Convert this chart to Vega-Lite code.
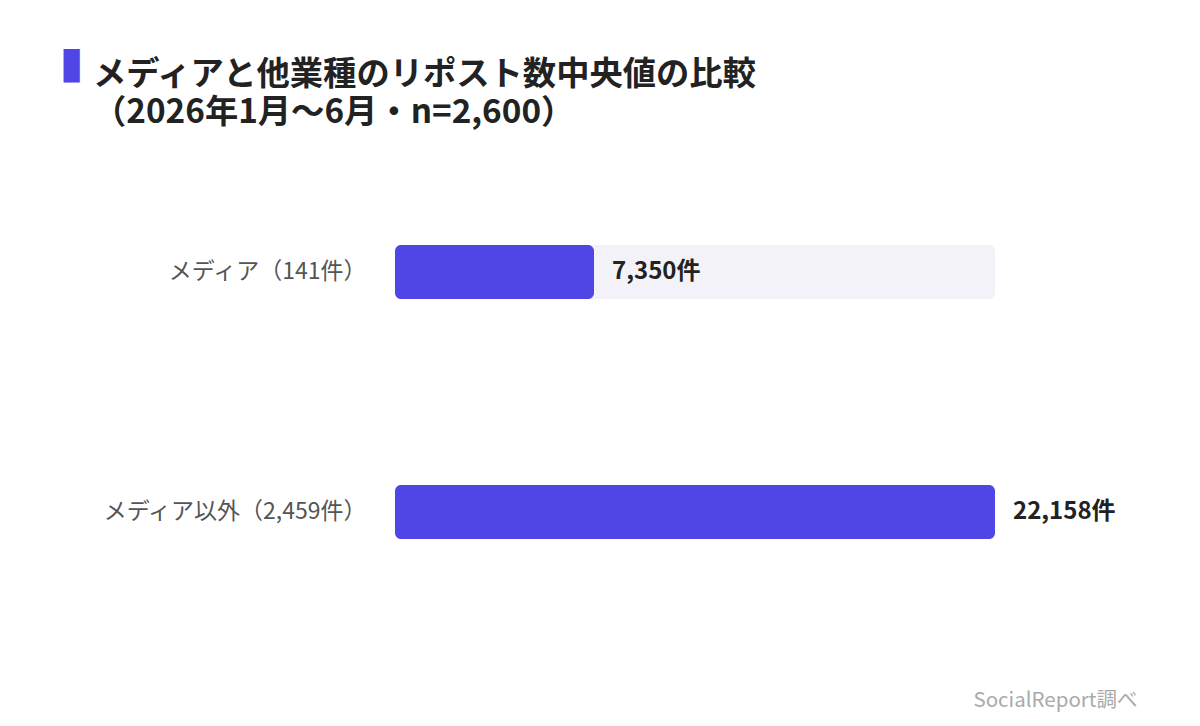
{
  "$schema": "https://vega.github.io/schema/vega-lite/v6.json",
  "width": 600,
  "height": 480,
  "autosize": {"type": "none"},
  "padding": {"left": 395, "top": 152, "right": 205, "bottom": 94},
  "background": "#ffffff",
  "title": {
    "text": ["メディアと他業種のリポスト数中央値の比較", "（2026年1月〜6月・n=2,600）"],
    "anchor": "start",
    "frame": "group",
    "dx": -302,
    "baseline": "top",
    "offset": 0,
    "dy": 89,
    "font": "Noto Sans CJK JP",
    "fontSize": 33.3,
    "fontWeight": "bold",
    "color": "#222222",
    "lineHeight": 38
  },
  "data": {
    "values": [
      {"category": "メディア（141件）", "median": 7350, "max": 22158, "label": "7,350件"},
      {"category": "メディア以外（2,459件）", "median": 22158, "max": 22158, "label": "22,158件"}
    ]
  },
  "encoding": {
    "y": {
      "field": "category",
      "type": "nominal",
      "sort": null,
      "scale": {"paddingInner": 0, "paddingOuter": 0},
      "axis": {
        "orient": "left",
        "domain": false,
        "ticks": false,
        "grid": false,
        "labelPadding": 29,
        "labelLimit": 400,
        "labelFontSize": 23,
        "labelColor": "#555555",
        "labelFont": "Noto Sans CJK JP",
        "title": "▮",
        "titleAngle": 0,
        "titleX": -336,
        "titleY": -111,
        "titleAlign": "left",
        "titleBaseline": "top",
        "titleColor": "#4F46E5",
        "titleFont": "DejaVu Sans",
        "titleFontSize": 44,
        "titleFontWeight": "normal"
      }
    }
  },
  "layer": [
    {
      "mark": {"type": "bar", "color": "#F3F2F8", "cornerRadius": 6, "height": 54},
      "encoding": {
        "x": {"field": "max", "type": "quantitative", "scale": {"domain": [0, 22158], "nice": false, "zero": true}, "axis": {"title": "SocialReport調べ"}}
      }
    },
    {
      "mark": {"type": "bar", "color": "#4F46E5", "cornerRadius": 6, "height": 54},
      "encoding": {
        "x": {"field": "median", "type": "quantitative", "axis": {"title": "SocialReport調べ"}}
      }
    },
    {
      "mark": {"type": "text", "align": "left", "baseline": "middle", "dx": 18, "font": "Noto Sans CJK JP", "fontSize": 24, "fontWeight": "bold", "color": "#222222"},
      "encoding": {
        "x": {"field": "median", "type": "quantitative", "axis": {"title": "SocialReport調べ"}},
        "text": {"field": "label"}
      }
    }
  ],
  "config": {
    "view": {"stroke": null},
    "axisX": {
      "labels": false,
      "ticks": false,
      "domain": false,
      "grid": false,
      "titleX": 742,
      "titleY": 74,
      "titleAlign": "right",
      "titleBaseline": "alphabetic",
      "titleFont": "Noto Sans CJK JP",
      "titleFontSize": 20.5,
      "titleFontWeight": "normal",
      "titleColor": "#AAAAAA"
    }
  }
}
